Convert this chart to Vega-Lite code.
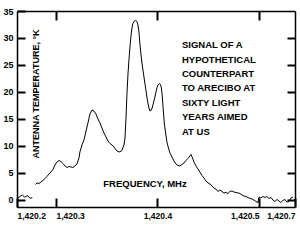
{
  "$schema": "https://vega.github.io/schema/vega-lite/v6.json",
  "width": 278,
  "height": 196,
  "autosize": {"type": "none"},
  "padding": {"left": 17, "top": 11, "right": 5, "bottom": 43},
  "background": "white",
  "config": {
    "view": {"stroke": null},
    "font": "Liberation Sans",
    "axis": {"grid": false, "domainColor": "black", "domainWidth": 1.5, "tickColor": "black", "tickWidth": 2, "labelColor": "black", "titleColor": "black", "labelFontWeight": "bold", "titleFontWeight": "bold"}
  },
  "datasets": {
    "spectrum": [
      {"seg": "a", "freq": 1420.2623, "temp": 0.31},
      {"seg": "a", "freq": 1420.2645, "temp": 0.65},
      {"seg": "a", "freq": 1420.2668, "temp": 0.93},
      {"seg": "a", "freq": 1420.2688, "temp": 0.56},
      {"seg": "a", "freq": 1420.2704, "temp": 0.65},
      {"seg": "a", "freq": 1420.2721, "temp": 0.80},
      {"seg": "a", "freq": 1420.2744, "temp": 0.31},
      {"seg": "a", "freq": 1420.2767, "temp": 0.43},
      {"seg": "b", "freq": 1420.2798, "temp": 2.87},
      {"seg": "b", "freq": 1420.2813, "temp": 3.15},
      {"seg": "b", "freq": 1420.2833, "temp": 3.06},
      {"seg": "b", "freq": 1420.2852, "temp": 3.33},
      {"seg": "b", "freq": 1420.2872, "temp": 3.61},
      {"seg": "b", "freq": 1420.2892, "temp": 3.98},
      {"seg": "b", "freq": 1420.2911, "temp": 4.35},
      {"seg": "b", "freq": 1420.2931, "temp": 4.81},
      {"seg": "b", "freq": 1420.2951, "temp": 5.19},
      {"seg": "b", "freq": 1420.2970, "temp": 5.65},
      {"seg": "b", "freq": 1420.2990, "temp": 6.48},
      {"seg": "b", "freq": 1420.3010, "temp": 7.04},
      {"seg": "b", "freq": 1420.3030, "temp": 7.31},
      {"seg": "b", "freq": 1420.3049, "temp": 7.13},
      {"seg": "b", "freq": 1420.3069, "temp": 6.76},
      {"seg": "b", "freq": 1420.3089, "temp": 6.30},
      {"seg": "b", "freq": 1420.3108, "temp": 6.02},
      {"seg": "b", "freq": 1420.3128, "temp": 6.20},
      {"seg": "b", "freq": 1420.3148, "temp": 6.11},
      {"seg": "b", "freq": 1420.3167, "temp": 6.02},
      {"seg": "b", "freq": 1420.3187, "temp": 6.30},
      {"seg": "b", "freq": 1420.3207, "temp": 6.67},
      {"seg": "b", "freq": 1420.3227, "temp": 7.78},
      {"seg": "b", "freq": 1420.3236, "temp": 8.89},
      {"seg": "b", "freq": 1420.3256, "temp": 10.19},
      {"seg": "b", "freq": 1420.3276, "temp": 11.11},
      {"seg": "b", "freq": 1420.3296, "temp": 12.78},
      {"seg": "b", "freq": 1420.3315, "temp": 14.26},
      {"seg": "b", "freq": 1420.3335, "temp": 15.93},
      {"seg": "b", "freq": 1420.3355, "temp": 16.67},
      {"seg": "b", "freq": 1420.3374, "temp": 16.48},
      {"seg": "b", "freq": 1420.3394, "temp": 15.93},
      {"seg": "b", "freq": 1420.3414, "temp": 15.00},
      {"seg": "b", "freq": 1420.3433, "temp": 14.26},
      {"seg": "b", "freq": 1420.3453, "temp": 13.33},
      {"seg": "b", "freq": 1420.3473, "temp": 12.41},
      {"seg": "b", "freq": 1420.3493, "temp": 11.67},
      {"seg": "b", "freq": 1420.3512, "temp": 10.93},
      {"seg": "b", "freq": 1420.3532, "temp": 10.46},
      {"seg": "b", "freq": 1420.3552, "temp": 10.19},
      {"seg": "b", "freq": 1420.3571, "temp": 9.81},
      {"seg": "b", "freq": 1420.3591, "temp": 9.26},
      {"seg": "b", "freq": 1420.3611, "temp": 8.98},
      {"seg": "b", "freq": 1420.3630, "temp": 8.89},
      {"seg": "b", "freq": 1420.3650, "temp": 9.17},
      {"seg": "b", "freq": 1420.3670, "temp": 10.19},
      {"seg": "b", "freq": 1420.3680, "temp": 11.48},
      {"seg": "b", "freq": 1420.3690, "temp": 15.19},
      {"seg": "b", "freq": 1420.3699, "temp": 19.44},
      {"seg": "b", "freq": 1420.3709, "temp": 23.15},
      {"seg": "b", "freq": 1420.3719, "temp": 25.93},
      {"seg": "b", "freq": 1420.3729, "temp": 28.33},
      {"seg": "b", "freq": 1420.3739, "temp": 30.37},
      {"seg": "b", "freq": 1420.3749, "temp": 31.85},
      {"seg": "b", "freq": 1420.3758, "temp": 32.69},
      {"seg": "b", "freq": 1420.3768, "temp": 33.06},
      {"seg": "b", "freq": 1420.3783, "temp": 33.24},
      {"seg": "b", "freq": 1420.3798, "temp": 33.06},
      {"seg": "b", "freq": 1420.3808, "temp": 32.41},
      {"seg": "b", "freq": 1420.3818, "temp": 31.11},
      {"seg": "b", "freq": 1420.3827, "temp": 28.89},
      {"seg": "b", "freq": 1420.3837, "temp": 27.04},
      {"seg": "b", "freq": 1420.3847, "temp": 25.37},
      {"seg": "b", "freq": 1420.3857, "temp": 24.07},
      {"seg": "b", "freq": 1420.3867, "temp": 22.78},
      {"seg": "b", "freq": 1420.3877, "temp": 21.48},
      {"seg": "b", "freq": 1420.3887, "temp": 20.19},
      {"seg": "b", "freq": 1420.3896, "temp": 19.07},
      {"seg": "b", "freq": 1420.3906, "temp": 17.96},
      {"seg": "b", "freq": 1420.3916, "temp": 17.04},
      {"seg": "b", "freq": 1420.3926, "temp": 16.48},
      {"seg": "b", "freq": 1420.3936, "temp": 16.57},
      {"seg": "b", "freq": 1420.3946, "temp": 16.94},
      {"seg": "b", "freq": 1420.3955, "temp": 17.59},
      {"seg": "b", "freq": 1420.3965, "temp": 18.33},
      {"seg": "b", "freq": 1420.3975, "temp": 19.07},
      {"seg": "b", "freq": 1420.3985, "temp": 20.00},
      {"seg": "b", "freq": 1420.3995, "temp": 20.83},
      {"seg": "b", "freq": 1420.4005, "temp": 21.30},
      {"seg": "b", "freq": 1420.4018, "temp": 21.57},
      {"seg": "b", "freq": 1420.4029, "temp": 21.39},
      {"seg": "b", "freq": 1420.4039, "temp": 20.74},
      {"seg": "b", "freq": 1420.4047, "temp": 19.26},
      {"seg": "b", "freq": 1420.4057, "temp": 16.67},
      {"seg": "b", "freq": 1420.4067, "temp": 14.26},
      {"seg": "b", "freq": 1420.4079, "temp": 12.59},
      {"seg": "b", "freq": 1420.4093, "temp": 10.74},
      {"seg": "b", "freq": 1420.4108, "temp": 9.63},
      {"seg": "b", "freq": 1420.4123, "temp": 8.70},
      {"seg": "b", "freq": 1420.4143, "temp": 7.96},
      {"seg": "b", "freq": 1420.4162, "temp": 7.22},
      {"seg": "b", "freq": 1420.4182, "temp": 6.67},
      {"seg": "b", "freq": 1420.4202, "temp": 6.39},
      {"seg": "b", "freq": 1420.4221, "temp": 6.30},
      {"seg": "b", "freq": 1420.4241, "temp": 6.57},
      {"seg": "b", "freq": 1420.4261, "temp": 6.85},
      {"seg": "b", "freq": 1420.4281, "temp": 7.31},
      {"seg": "b", "freq": 1420.4300, "temp": 7.69},
      {"seg": "b", "freq": 1420.4320, "temp": 8.15},
      {"seg": "b", "freq": 1420.4330, "temp": 8.43},
      {"seg": "b", "freq": 1420.4345, "temp": 7.78},
      {"seg": "b", "freq": 1420.4359, "temp": 7.04},
      {"seg": "b", "freq": 1420.4379, "temp": 6.30},
      {"seg": "b", "freq": 1420.4399, "temp": 5.74},
      {"seg": "b", "freq": 1420.4418, "temp": 5.19},
      {"seg": "b", "freq": 1420.4438, "temp": 4.54},
      {"seg": "b", "freq": 1420.4458, "temp": 4.07},
      {"seg": "b", "freq": 1420.4478, "temp": 3.52},
      {"seg": "b", "freq": 1420.4497, "temp": 3.15},
      {"seg": "b", "freq": 1420.4517, "temp": 2.96},
      {"seg": "b", "freq": 1420.4537, "temp": 2.59},
      {"seg": "b", "freq": 1420.4556, "temp": 2.22},
      {"seg": "b", "freq": 1420.4576, "temp": 2.04},
      {"seg": "b", "freq": 1420.4596, "temp": 1.57},
      {"seg": "b", "freq": 1420.4615, "temp": 1.85},
      {"seg": "b", "freq": 1420.4635, "temp": 1.57},
      {"seg": "b", "freq": 1420.4655, "temp": 1.30},
      {"seg": "b", "freq": 1420.4675, "temp": 1.39},
      {"seg": "b", "freq": 1420.4694, "temp": 1.20},
      {"seg": "b", "freq": 1420.4714, "temp": 1.57},
      {"seg": "b", "freq": 1420.4734, "temp": 1.67},
      {"seg": "b", "freq": 1420.4753, "temp": 1.48},
      {"seg": "b", "freq": 1420.4773, "temp": 1.39},
      {"seg": "b", "freq": 1420.4793, "temp": 1.30},
      {"seg": "b", "freq": 1420.4812, "temp": 1.20},
      {"seg": "b", "freq": 1420.4832, "temp": 0.93},
      {"seg": "b", "freq": 1420.4852, "temp": 0.74},
      {"seg": "b", "freq": 1420.4872, "temp": 0.65},
      {"seg": "b", "freq": 1420.4891, "temp": 0.46},
      {"seg": "b", "freq": 1420.4911, "temp": 0.28},
      {"seg": "b", "freq": 1420.4931, "temp": 0.19},
      {"seg": "b", "freq": 1420.4950, "temp": 0.00},
      {"seg": "b", "freq": 1420.4970, "temp": -0.28},
      {"seg": "b", "freq": 1420.4990, "temp": -0.46},
      {"seg": "b", "freq": 1420.5000, "temp": 0.56},
      {"seg": "b", "freq": 1420.5019, "temp": 0.37},
      {"seg": "b", "freq": 1420.5039, "temp": 0.65},
      {"seg": "b", "freq": 1420.5059, "temp": 0.46},
      {"seg": "b", "freq": 1420.5078, "temp": 0.65},
      {"seg": "b", "freq": 1420.5098, "temp": 0.28},
      {"seg": "b", "freq": 1420.5118, "temp": 0.46},
      {"seg": "b", "freq": 1420.5137, "temp": 0.00},
      {"seg": "b", "freq": 1420.5157, "temp": -0.28},
      {"seg": "b", "freq": 1420.5177, "temp": 0.09},
      {"seg": "b", "freq": 1420.5197, "temp": -0.19},
      {"seg": "b", "freq": 1420.5216, "temp": -0.46},
      {"seg": "b", "freq": 1420.5236, "temp": -0.09},
      {"seg": "b", "freq": 1420.5256, "temp": 0.09},
      {"seg": "b", "freq": 1420.5275, "temp": -0.37},
      {"seg": "b", "freq": 1420.5295, "temp": -0.28},
      {"seg": "b", "freq": 1420.5315, "temp": 0.37},
      {"seg": "b", "freq": 1420.5335, "temp": 0.56}
    ],
    "note": [
      {"freq": 1420.4241, "temp": 29.6, "label": ["SIGNAL OF A", "HYPOTHETICAL", "COUNTERPART", "TO ARECIBO AT", "SIXTY LIGHT", "YEARS AIMED", "AT US"]}
    ]
  },
  "layer": [
    {
      "data": {"name": "spectrum"},
      "mark": {"type": "line", "color": "black", "strokeWidth": 1},
      "encoding": {
        "x": {
          "field": "freq", "type": "quantitative",
          "scale": {"domain": [1420.2616, 1420.5355], "nice": false, "zero": false},
          "axis": {
            "orient": "bottom",
            "title": "FREQUENCY, MHz",
            "titleFontSize": 9.5,
            "titleX": 127.5, "titleY": -24, "titleAnchor": null, "titleAlign": "center", "titleBaseline": "middle",
            "values": [1420.2616, 1420.3, 1420.4, 1420.5, 1420.5355],
            "labelExpr": "datum.value < 1420.28 ? '1,420.2' : datum.value > 1420.52 ? '1,420.7' : format(datum.value, ',.1f')",
            "labelAlign": {"expr": "datum.value < 1420.35 ? 'left' : datum.value > 1420.45 ? 'right' : 'center'"},
            "labelFontSize": 8.5,
            "labelPadding": 13,
            "tickSize": -9,
            "labelFlush": false,
            "labelOverlap": false
          }
        },
        "y": {
          "field": "temp", "type": "quantitative",
          "scale": {"domain": [-1.3, 35], "nice": false, "zero": false},
          "axis": {
            "orient": "left",
            "title": "ANTENNA TEMPERATURE, °K",
            "titleFontSize": 9,
            "titleAngle": -90,
            "titleX": 18, "titleY": 82.5, "titleAnchor": null, "titleAlign": "center", "titleBaseline": "middle",
            "values": [0, 5, 10, 15, 20, 25, 30, 35],
            "labelFontSize": 9,
            "labelPadding": 12,
            "tickSize": -8,
            "labelOverlap": false,
            "labelFlush": false
          }
        },
        "detail": {"field": "seg", "type": "nominal"}
      }
    },
    {
      "data": {"name": "note"},
      "mark": {"type": "text", "align": "left", "baseline": "top", "fontSize": 9.5, "fontWeight": "bold", "lineHeight": 14.4, "color": "black"},
      "encoding": {
        "x": {
          "field": "freq", "type": "quantitative",
          "scale": {"domain": [1420.2616, 1420.5355], "nice": false, "zero": false},
          "axis": {"orient": "top", "title": null, "labels": false, "values": [1420.3, 1420.4, 1420.5], "tickSize": -9}
        },
        "y": {
          "field": "temp", "type": "quantitative",
          "scale": {"domain": [-1.3, 35], "nice": false, "zero": false},
          "axis": {"orient": "right", "title": null, "labels": false, "values": [0, 5, 10, 15, 20, 25, 30], "tickSize": -8}
        },
        "text": {"field": "label"}
      }
    }
  ]
}
